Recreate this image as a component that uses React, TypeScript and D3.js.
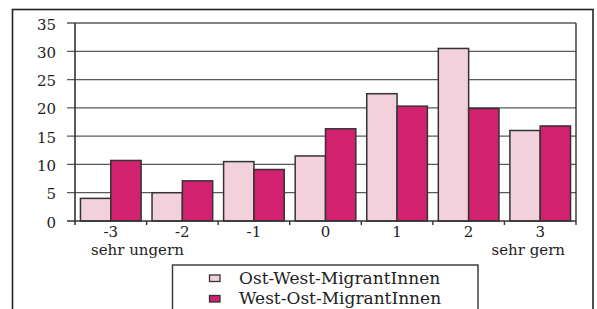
import React, { useEffect, useRef } from "react";
import * as d3 from "d3";

const categories = ["-3", "-2", "-1", "0", "1", "2", "3"];
const subLabels = ["sehr ungern", "", "", "", "", "", "sehr gern"];
const seriesNames = ["Ost-West-MigrantInnen", "West-Ost-MigrantInnen"];
const ostWest = [4.0, 5.0, 10.5, 11.5, 22.5, 30.5, 16.0];
const westOst = [10.7, 7.1, 9.1, 16.3, 20.3, 19.9, 16.8];
const yTicks = [0, 5, 10, 15, 20, 25, 30, 35];

const colors = ["#f3d1dc", "#d2226f"];

const App = () => {
  const svgRef = useRef<SVGSVGElement>(null);

  useEffect(() => {
    const svg = d3.select(svgRef.current);
    svg.selectAll("*").remove();
    const font = '"DejaVu Serif", "Liberation Serif", serif';

    const left = 75;
    const right = 576;
    const top = 23;
    const bottom = 221;

    // outer frame
    svg
      .append("rect")
      .attr("x", 12.5)
      .attr("y", 9.5)
      .attr("width", 580.5)
      .attr("height", 320)
      .attr("fill", "white")
      .attr("stroke", "#222")
      .attr("stroke-width", 1.6);

    const x = d3.scaleBand().domain(categories).range([left, right]);
    const inner = d3
      .scaleBand()
      .domain(seriesNames)
      .range([0, x.bandwidth()])
      .paddingOuter(0.18)
      .paddingInner(0);
    const y = d3.scaleLinear().domain([0, 35]).range([bottom, top]);

    const g = svg.append("g");

    // grid lines + y ticks
    g.selectAll(".grid")
      .data(yTicks.filter((t) => t > 0))
      .join("line")
      .attr("x1", left - 8)
      .attr("x2", right)
      .attr("y1", (d) => y(d))
      .attr("y2", (d) => y(d))
      .attr("stroke", "#5a5a5a")
      .attr("stroke-width", 1.3);

    g.selectAll(".ylab")
      .data(yTicks)
      .join("text")
      .attr("x", 56)
      .attr("y", (d) => y(d) + 6.5)
      .attr("text-anchor", "end")
      .style("font-family", font)
      .style("font-size", "15px")
      .attr("fill", "#222")
      .text((d) => d);

    // bars
    const data = categories.map((c, i) => ({ c, vals: [ostWest[i], westOst[i]] }));
    g.selectAll(".grp")
      .data(data)
      .join("g")
      .attr("transform", (d) => `translate(${x(d.c)},0)`)
      .selectAll("rect")
      .data((d) => d.vals.map((v, k) => ({ v, k })))
      .join("rect")
      .attr("x", (d) => inner(seriesNames[d.k])!)
      .attr("y", (d) => y(d.v))
      .attr("width", inner.bandwidth())
      .attr("height", (d) => y(0) - y(d.v))
      .attr("fill", (d) => colors[d.k])
      .attr("stroke", "#333")
      .attr("stroke-width", 1.5);

    // axes lines
    g.append("line")
      .attr("x1", left)
      .attr("x2", left)
      .attr("y1", top)
      .attr("y2", bottom + 4)
      .attr("stroke", "#333")
      .attr("stroke-width", 1.6);
    g.append("line")
      .attr("x1", right)
      .attr("x2", right)
      .attr("y1", top)
      .attr("y2", bottom + 4)
      .attr("stroke", "#333")
      .attr("stroke-width", 1.4);
    g.append("line")
      .attr("x1", left - 8)
      .attr("x2", right)
      .attr("y1", bottom)
      .attr("y2", bottom)
      .attr("stroke", "#333")
      .attr("stroke-width", 1.6);

    // x ticks at category boundaries
    g.selectAll(".xt")
      .data(categories.slice(1))
      .join("line")
      .attr("x1", (d) => x(d)!)
      .attr("x2", (d) => x(d)!)
      .attr("y1", bottom)
      .attr("y2", bottom + 4)
      .attr("stroke", "#333")
      .attr("stroke-width", 1.4);

    // x labels
    g.selectAll(".xlab")
      .data(categories)
      .join("text")
      .attr("x", (d) => x(d)! + x.bandwidth() / 2)
      .attr("y", 236.5)
      .attr("text-anchor", "middle")
      .style("font-family", font)
      .style("font-size", "15px")
      .attr("fill", "#222")
      .text((d) => d);

    // end labels: first one left-aligned inside its band, last one right-aligned
    g.selectAll(".xsub")
      .data(categories)
      .join("text")
      .attr("x", (d, i) =>
        i === 0 ? x(d)! + 16 : i === categories.length - 1 ? x(d)! + x.bandwidth() - 11 : x(d)! + x.bandwidth() / 2
      )
      .attr("y", 254.5)
      .attr("text-anchor", (d, i) => (i === 0 ? "start" : i === categories.length - 1 ? "end" : "middle"))
      .style("font-family", font)
      .style("font-size", "15px")
      .attr("fill", "#222")
      .text((d, i) => subLabels[i]);

    // legend
    const lg = svg.append("g");
    lg.append("rect")
      .attr("x", 172.5)
      .attr("y", 265)
      .attr("width", 305.5)
      .attr("height", 60)
      .attr("fill", "white")
      .attr("stroke", "#333")
      .attr("stroke-width", 1.4);
    seriesNames.forEach((name, i) => {
      const cy = 278 + i * 20.5;
      lg.append("rect")
        .attr("x", 209.5)
        .attr("y", cy - 3)
        .attr("width", 10.5)
        .attr("height", 6.5)
        .attr("fill", colors[i])
        .attr("stroke", "#333")
        .attr("stroke-width", 1.3);
      lg.append("text")
        .attr("x", 239)
        .attr("y", cy + 5.5)
        .style("font-family", font)
        .style("font-size", "17px")
        .attr("fill", "#222")
        .text(name);
    });
  }, []);

  return (
    <svg
      ref={svgRef}
      width={597}
      height={309}
      style={{ position: "absolute", left: 0, top: 0, display: "block" }}
    ></svg>
  );
};

export default App;
